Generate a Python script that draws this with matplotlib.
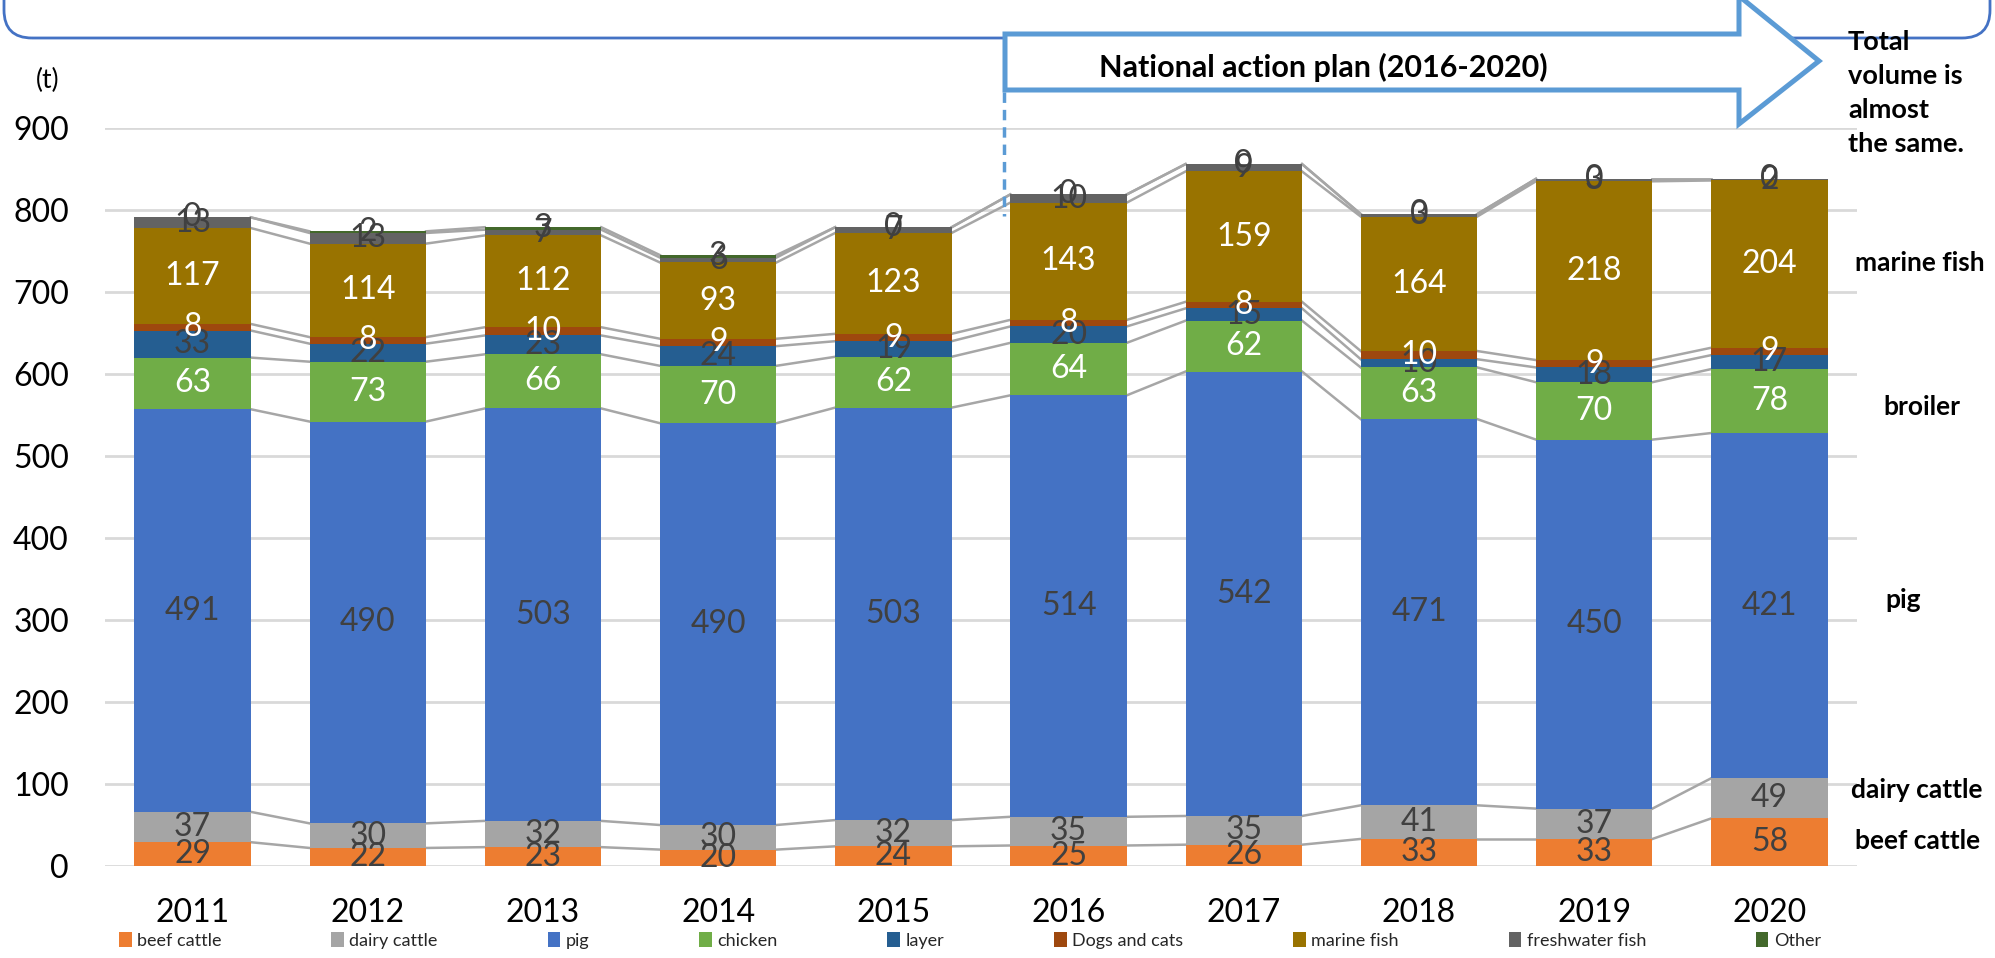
import matplotlib.pyplot as plt
import numpy as np
from matplotlib.patches import FancyBboxPatch, Polygon

plt.rcParams['font.family'] = ['Lato', 'DejaVu Sans']

years = ['2011', '2012', '2013', '2014', '2015', '2016', '2017', '2018', '2019', '2020']
series_names = ['beef cattle', 'dairy cattle', 'pig', 'chicken', 'layer',
                'Dogs and cats', 'marine fish', 'freshwater fish', 'Other']
beef_cattle = [29, 22, 23, 20, 24, 25, 26, 33, 33, 58]
dairy_cattle = [37, 30, 32, 30, 32, 35, 35, 41, 37, 49]
pig = [491, 490, 503, 490, 503, 514, 542, 471, 450, 421]
chicken = [63, 73, 66, 70, 62, 64, 62, 63, 70, 78]
layer = [33, 22, 23, 24, 19, 20, 15, 10, 18, 17]
dogs_cats = [8, 8, 10, 9, 9, 8, 8, 10, 9, 9]
marine_fish = [117, 114, 112, 93, 123, 143, 159, 164, 218, 204]
freshwater_fish = [13, 13, 7, 6, 7, 10, 9, 3, 3, 2]
other = [0, 2, 3, 3, 0, 0, 0, 0, 0, 0]

values = [beef_cattle, dairy_cattle, pig, chicken, layer,
          dogs_cats, marine_fish, freshwater_fish, other]
colors = ['#ED7D31', '#A5A5A5', '#4472C4', '#70AD47', '#255E91',
          '#9E480E', '#997300', '#636363', '#43682B']
label_colors = ['#404040', '#404040', '#404040', 'white', '#404040',
                'white', 'white', '#404040', '#404040']

W, H = 1995, 958
fig = plt.figure(figsize=(W / 100, H / 100), dpi=100)


def fx(x):
    return x / W


def fy(y):
    return 1 - y / H


def inch(x, y):
    return x / 100, (H - y) / 100


ax = fig.add_axes([fx(105), fy(866), fx(1857) - fx(105), fy(128) - fy(866)])

x = np.arange(len(years))
width = 0.665
bottom = np.zeros(len(years))
handles = []
for vals, col, lcol, name in zip(values, colors, label_colors, series_names):
    vals = np.array(vals, dtype=float)
    bars = ax.bar(x, vals, width, bottom=bottom, color=col, label=name, zorder=2)
    ax.bar_label(bars, labels=[str(int(v)) for v in vals], label_type='center',
                 color=lcol, fontsize=23, zorder=4)
    handles.append(bars)
    top = bottom + vals
    # series lines between neighbouring bars
    for i in range(len(years) - 1):
        ax.plot([x[i] + width / 2, x[i + 1] - width / 2], [top[i], top[i + 1]],
                color='#A6A6A6', lw=1.8, zorder=1)
    bottom = top

ax.set_xlim(-0.5, len(years) - 0.5)
ax.set_ylim(0, 900)
ax.set_yticks(np.arange(0, 901, 100))
ax.set_xticks(x)
ax.set_xticklabels(years)
ax.tick_params(length=0, labelsize=23, colors='black')
ax.tick_params(axis='y', pad=26)
ax.tick_params(axis='x', pad=23)
ax.grid(axis='y', color='#D9D9D9', lw=2, zorder=0)
ax.set_axisbelow(True)
for s in ax.spines.values():
    s.set_visible(False)

fig.text(fx(48), fy(80), '(t)', fontsize=19, ha='center', va='center')

# legend along the bottom edge
fig.legend(handles=handles, labels=series_names, loc='lower left',
           bbox_to_anchor=(fx(110), 0.0, fx(1830) - fx(110), 0.03), mode='expand',
           ncol=9, frameon=False, fontsize=13, handlelength=0.7, handleheight=0.9,
           handletextpad=0.3, borderaxespad=0.1, labelcolor='#262626')

# rounded frame cut off at the top
frame = FancyBboxPatch(inch(4, 38), (1986) / 100, 1.2,
                       boxstyle='round,pad=0,rounding_size=0.28',
                       transform=fig.dpi_scale_trans, fill=False,
                       ec='#4472C4', lw=2, clip_on=False)
fig.add_artist(frame)

# block arrow for the action plan period
arrow_pts = [(1005, 34), (1739, 34), (1739, -4), (1819, 61), (1739, 124),
             (1739, 90), (1005, 90)]
arrow = Polygon([inch(px, py) for px, py in arrow_pts], closed=True,
                transform=fig.dpi_scale_trans, fc='white', ec='#5B9BD5',
                lw=3.6, joinstyle='miter', clip_on=False)
fig.add_artist(arrow)
fig.text(fx(1323), fy(67), 'National action plan (2016-2020)', fontsize=22,
         fontweight='bold', ha='center', va='center')
fig.add_artist(plt.Line2D([fx(1004), fx(1004)], [fy(92), fy(216)],
                          color='#5B9BD5', lw=2.5, ls=(0, (3, 2))))

# notes on the right
fig.text(fx(1848), fy(93), 'Total\nvolume is\nalmost\nthe same.', fontsize=19.5,
         fontweight='bold', ha='left', va='center', linespacing=1.5)
notes = [('marine fish', 1855, 263), ('broiler', 1883, 407), ('pig', 1885, 600),
         ('dairy cattle', 1851, 790), ('beef cattle', 1855, 841)]
for txt, nx, ny in notes:
    fig.text(fx(nx), fy(ny), txt, fontsize=19, fontweight='bold',
             ha='left', va='center')

fig.savefig('out.png', dpi=100)
